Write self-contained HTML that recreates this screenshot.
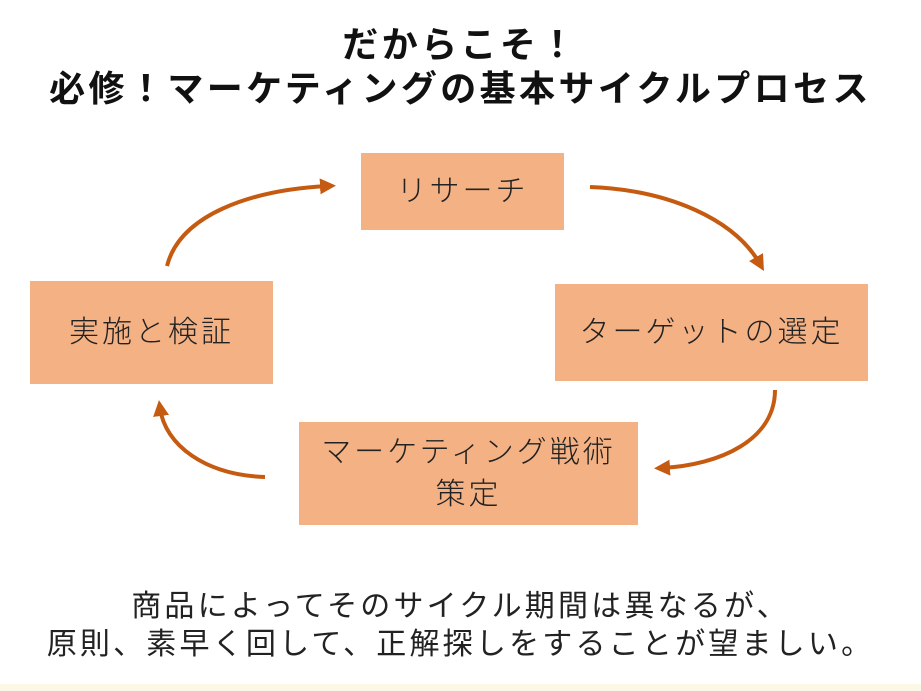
<!DOCTYPE html>
<html><head><meta charset="utf-8"><style>
body{margin:0;width:921px;height:691px;background:#fff;position:relative;overflow:hidden;font-family:"Liberation Sans","Noto Sans CJK JP",sans-serif;color:#111}
.t{position:absolute;left:0;width:921px;text-align:center;font-weight:bold;font-size:36px;letter-spacing:3.4px;line-height:44px}
.b{position:absolute;background:#f4b183;display:flex;align-items:center;justify-content:center;text-align:center;font-size:30px;letter-spacing:3px;line-height:42px;color:#222;font-weight:300}
.c{position:absolute;left:0;width:921px;text-align:center;font-size:30px;letter-spacing:3.2px;line-height:42px;color:#222}
</style></head><body>
<div class="t" style="top:23px">だからこそ！</div>
<div class="t" style="top:67px">必修！マーケティングの基本サイクルプロセス</div>
<div class="b" style="left:361px;top:153px;width:203px;height:77px">リサーチ</div>
<div class="b" style="left:30px;top:281px;width:243px;height:103px">実施と検証</div>
<div class="b" style="left:555px;top:284px;width:313px;height:97px">ターゲットの選定</div>
<div class="b" style="left:299px;top:422px;width:339px;height:103px">マーケティング戦術<br>策定</div>
<svg width="921" height="691" style="position:absolute;left:0;top:0">
<defs><marker id="a" markerWidth="4" markerHeight="4" refX="2" refY="2" orient="auto"><path d="M0,0L4,2L0,4z" fill="#c55a11"/></marker></defs>
<g fill="none" stroke="#c55a11" stroke-width="4" marker-end="url(#a)">
<path d="M167,266 C180,215 250,190 328,186"/>
<path d="M590,187 C670,190 735,220 760,264"/>
<path d="M775,390 C775,440 720,465 662,468"/>
<path d="M265,477 C205,475 165,445 160,408"/>
</g></svg>
<div class="c" style="top:586px">商品によってそのサイクル期間は異なるが、</div>
<div class="c" style="top:624px">原則、素早く回して、正解探しをすることが望ましい。</div>
<div style="position:absolute;left:0;top:684px;width:921px;height:7px;background:#fbf8e8"></div>
</body></html>
